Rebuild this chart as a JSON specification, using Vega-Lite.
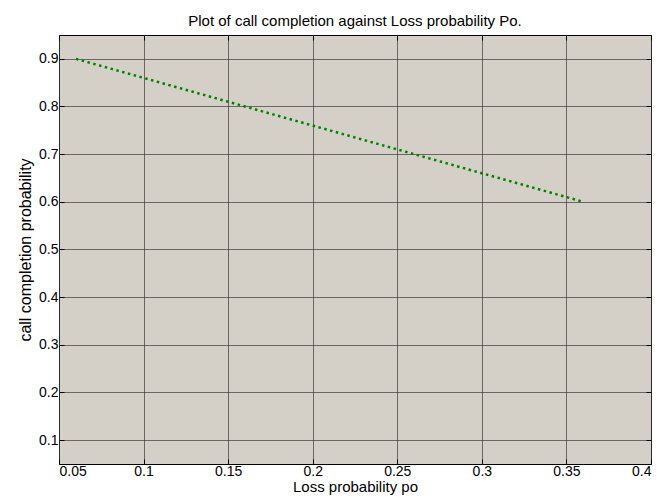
{
  "$schema": "https://vega.github.io/schema/vega-lite/v6.json",
  "width": 592,
  "height": 429,
  "autosize": {"type": "none"},
  "padding": {"left": 59, "top": 35, "right": 11, "bottom": 39},
  "background": "white",
  "title": {"text": "Plot of call completion against Loss probability Po.", "font": "Liberation Sans", "fontSize": 15, "fontWeight": "normal", "color": "#000", "offset": 6},
  "config": {
    "view": {"fill": "#d4d0c8", "stroke": "#000", "strokeWidth": 1},
    "axis": {"labelFont": "Liberation Sans", "titleFont": "Liberation Sans", "labelFontSize": 14, "titleFontSize": 15, "titleFontWeight": "normal", "labelColor": "#000", "titleColor": "#000", "domain": false, "tickColor": "#000", "tickSize": -5, "gridColor": "#3a3a3a", "gridOpacity": 0.7, "gridWidth": 1, "format": ".2~f"}
  },
  "resolve": {"axis": {"x": "independent", "y": "independent"}},
  "data": {"values": [
    {"po": 0.06, "pc": 0.90},
    {"po": 0.09, "pc": 0.87},
    {"po": 0.12, "pc": 0.84},
    {"po": 0.15, "pc": 0.81},
    {"po": 0.18, "pc": 0.78},
    {"po": 0.21, "pc": 0.75},
    {"po": 0.24, "pc": 0.72},
    {"po": 0.27, "pc": 0.69},
    {"po": 0.30, "pc": 0.66},
    {"po": 0.33, "pc": 0.63},
    {"po": 0.36, "pc": 0.60}
  ]},
  "layer": [
    {
      "mark": {"type": "line", "color": "#008000", "strokeWidth": 2.5, "strokeDash": [2.5, 3.5]},
      "encoding": {
        "x": {"field": "po", "type": "quantitative", "scale": {"domain": [0.05, 0.4], "nice": false, "zero": false}, "axis": {"values": [0.05, 0.1, 0.15, 0.2, 0.25, 0.3, 0.35, 0.4], "title": "Loss probability po", "titlePadding": 1, "labelPadding": 5}},
        "y": {"field": "pc", "type": "quantitative", "scale": {"domain": [0.05, 0.95], "nice": false, "zero": false}, "axis": {"values": [0.1, 0.2, 0.3, 0.4, 0.5, 0.6, 0.7, 0.8, 0.9], "title": "call completion probability", "titleFontSize": 16, "titlePadding": 5, "labelPadding": 6}}
      }
    },
    {
      "mark": {"type": "line", "opacity": 0},
      "encoding": {
        "x": {"field": "po", "type": "quantitative", "axis": {"orient": "top", "values": [0.05, 0.1, 0.15, 0.2, 0.25, 0.3, 0.35, 0.4], "labels": false, "grid": false, "title": null}},
        "y": {"field": "pc", "type": "quantitative", "axis": {"orient": "right", "values": [0.1, 0.2, 0.3, 0.4, 0.5, 0.6, 0.7, 0.8, 0.9], "labels": false, "grid": false, "title": null}}
      }
    }
  ]
}
